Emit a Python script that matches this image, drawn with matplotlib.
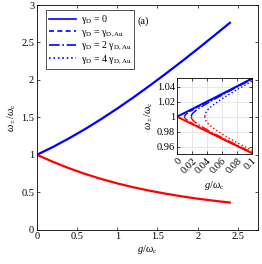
import matplotlib
matplotlib.use("Agg")
import matplotlib.pyplot as plt

plt.rcParams['font.family'] = ['Liberation Serif', 'DejaVu Serif']
plt.rcParams['mathtext.fontset'] = 'custom'
plt.rcParams['mathtext.rm'] = 'Liberation Serif'
plt.rcParams['mathtext.it'] = 'Liberation Serif:italic'
plt.rcParams['mathtext.bf'] = 'Liberation Serif:bold'

# ---- main panel data ----
g_main = [0, 0.2, 0.4, 0.6, 0.8, 1.0, 1.2, 1.4, 1.6, 1.8, 2.0, 2.2, 2.4]
w_plus = [1.0, 1.105, 1.220, 1.344, 1.477, 1.618, 1.766, 1.921, 2.081, 2.245, 2.414, 2.587, 2.762]
w_minus = [1.0, 0.905, 0.820, 0.744, 0.677, 0.618, 0.566, 0.521, 0.481, 0.445, 0.414, 0.387, 0.362]

# ---- inset data ----
g_in0 = [0, 0.02, 0.04, 0.06, 0.08, 0.1]
wp_in0 = [1.0, 1.0102, 1.0204, 1.0305, 1.0408, 1.0512]
wm_in0 = [1.0, 0.9902, 0.9804, 0.9705, 0.9608, 0.9512]

g_in1 = [0.01, 0.0103, 0.011, 0.012, 0.014, 0.017, 0.02, 0.03, 0.04, 0.06, 0.08, 0.1]
wp_in1 = [1.0, 1.0012, 1.0023, 1.0033, 1.0049, 1.0069, 1.0087, 1.0143, 1.0196, 1.0300, 1.0405, 1.0510]
wm_in1 = [1.0, 0.9988, 0.9977, 0.9967, 0.9951, 0.9931, 0.9913, 0.9860, 0.9806, 0.9709, 0.9611, 0.9510]

g_in2 = [0.019, 0.0195, 0.02, 0.021, 0.022, 0.025, 0.03, 0.04, 0.05, 0.06, 0.08, 0.1]
wp_in2 = [1.0, 1.0022, 1.0032, 1.0045, 1.0056, 1.0082, 1.0117, 1.0178, 1.0234, 1.0289, 1.0397, 1.0503]
wm_in2 = [1.0, 0.9979, 0.9969, 0.9956, 0.9945, 0.9920, 0.9885, 0.9826, 0.9772, 0.9720, 0.9619, 0.9522]

g_in4 = [0.037, 0.0375, 0.038, 0.039, 0.04, 0.042, 0.045, 0.05, 0.06, 0.07, 0.08, 0.09, 0.1]
wp_in4 = [1.0002, 1.0032, 1.0046, 1.0064, 1.0078, 1.0102, 1.0131, 1.0171, 1.0241, 1.0303, 1.0363, 1.0420, 1.0477]
wm_in4 = [1.0002, 0.9971, 0.9959, 0.9940, 0.9926, 0.9903, 0.9875, 0.9835, 0.9769, 0.9709, 0.9653, 0.9600, 0.9548]

legend_labels = [r'$\mathrm{\gamma_D}$ = 0',
                 r'$\mathrm{\gamma_D}$ = $\mathrm{\gamma_{D,Au}}$',
                 r'$\mathrm{\gamma_D}$ = 2 $\mathrm{\gamma_{D,Au}}$',
                 r'$\mathrm{\gamma_D}$ = 4 $\mathrm{\gamma_{D,Au}}$']
styles = ['-', (0, (3, 2)), '-.', ':']

fs = 7.5
fig = plt.figure(figsize=(2.62, 2.64), dpi=100)
ax = fig.add_axes([0.141, 0.130, 0.8435, 0.851])

blue = (0, 0, 1)
red = (1, 0, 0)
ax.plot(g_main, w_plus, color=blue, lw=1.6)
ax.plot(g_main, w_minus, color=red, lw=1.6)
ax.set_xlim(0, 2.75)
ax.set_ylim(0, 3)
ax.set_xticks([0, 0.5, 1, 1.5, 2, 2.5])
ax.set_xticklabels(['0', '0.5', '1', '1.5', '2', '2.5'])
ax.set_yticks([0, 0.5, 1, 1.5, 2, 2.5, 3])
ax.set_yticklabels(['0', '0.5', '1', '1.5', '2', '2.5', '3'])
ax.tick_params(direction='in', top=True, right=True, labelsize=fs, length=2.5, width=0.5, pad=2)
for s in ax.spines.values():
    s.set_linewidth(0.6)
ax.set_xlabel(r'$g/\omega_\mathrm{c}$', fontsize=fs, labelpad=1)
ax.set_ylabel(r'$\omega_\pm/\omega_\mathrm{c}$', fontsize=fs, labelpad=2)
ax.text(0.48, 0.93, '(a)', transform=ax.transAxes, fontsize=fs, ha='center', va='center')

handles = [ax.plot([], [], color=blue, ls=st, lw=1.2)[0] for st in styles]
leg = ax.legend(handles, legend_labels, loc='upper left', bbox_to_anchor=(0.03, 0.985),
                fontsize=fs - 0.3, frameon=True, fancybox=False, edgecolor='black',
                handlelength=2.7, borderpad=0.3, labelspacing=0.12, handletextpad=0.5,
                borderaxespad=0.2)
leg.get_frame().set_linewidth(0.6)

# ---- inset ----
ins = fig.add_axes([0.6756, 0.4167, 0.286, 0.288])
ins.plot(g_in0, wp_in0, color=blue, ls='-', lw=1.4)
ins.plot(g_in0, wm_in0, color=red, ls='-', lw=1.4)
ins.plot(g_in1, wp_in1, color=blue, ls='--', lw=1.0)
ins.plot(g_in1, wm_in1, color=red, ls='--', lw=1.0)
ins.plot(g_in2, wp_in2, color=blue, ls='-.', lw=1.0)
ins.plot(g_in2, wm_in2, color=red, ls='-.', lw=1.0)
ins.plot(g_in4, wp_in4, color=blue, ls=':', lw=1.0)
ins.plot(g_in4, wm_in4, color=red, ls=':', lw=1.0)
ins.set_xlim(0, 0.1)
ins.set_ylim(0.95, 1.052)
ins.set_xticks([0, 0.02, 0.04, 0.06, 0.08, 0.1])
ins.set_xticklabels(['0', '0.02', '0.04', '0.06', '0.08', '0.1'], rotation=45, ha='right',
                    rotation_mode='anchor')
ins.set_yticks([0.96, 0.98, 1.0, 1.02, 1.04])
ins.set_yticklabels(['0.96', '0.98', '1', '1.02', '1.04'])
ins.grid(True, color='#dddddd', lw=0.5)
ins.set_axisbelow(True)
ins.tick_params(direction='in', top=True, right=True, labelsize=fs, length=2, width=0.5, pad=1.5)
for s in ins.spines.values():
    s.set_linewidth(0.6)
ins.set_xlabel(r'$g/\omega_\mathrm{c}$', fontsize=fs, labelpad=3)
ins.set_ylabel(r'$\omega_\pm/\omega_\mathrm{c}$', fontsize=fs, labelpad=1.5)

fig.savefig('out.png', dpi=100)
